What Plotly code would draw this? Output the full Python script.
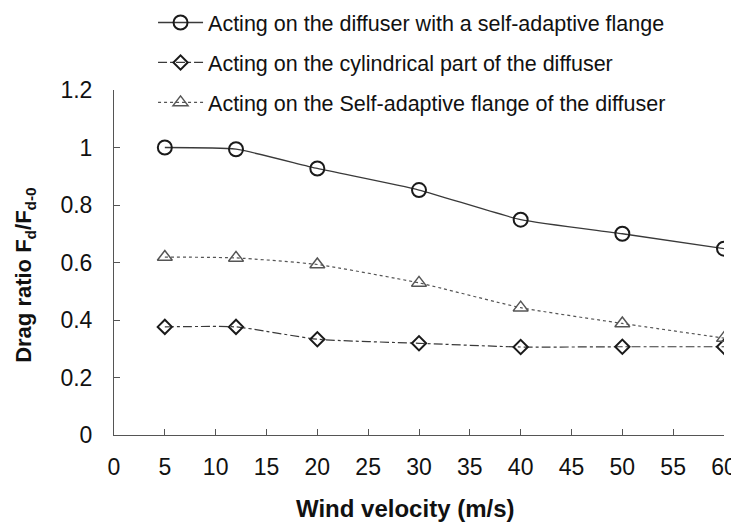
import plotly.graph_objects as go

velocity = [5, 12, 20, 30, 40, 50, 60]
whole_flange = [1.0, 0.994, 0.927, 0.852, 0.749, 0.70, 0.648]
cylindrical = [0.376, 0.376, 0.333, 0.319, 0.306, 0.307, 0.307]
flange_only = [0.619, 0.616, 0.593, 0.529, 0.443, 0.388, 0.337]

names = [
    "Acting on the diffuser with a self-adaptive flange",
    "Acting on the cylindrical part of the diffuser",
    "Acting on the Self-adaptive flange of the diffuser",
]
x_title = "<b>Wind velocity (m/s)</b>"
y_title = "<b>Drag ratio F<sub>d</sub>/F<sub>d-0</sub></b>"
x_ticks = list(range(0, 61, 5))
y_ticks = [0, 0.2, 0.4, 0.6, 0.8, 1.0, 1.2]
y_tick_text = ["0", "0.2", "0.4", "0.6", "0.8", "1", "1.2"]

FONT = "Liberation Sans, Arial, sans-serif"

fig = go.Figure()
fig.add_trace(go.Scatter(
    x=velocity, y=whole_flange, name=names[0], mode="lines+markers", legendgroup="a",
    line=dict(color="#3a3a3a", width=1.3, shape="spline", smoothing=0.5),
    marker=dict(symbol="circle-open", size=14, color="#1a1a1a", line=dict(width=2, color="#1a1a1a")),
))
fig.add_trace(go.Scatter(
    x=velocity, y=cylindrical, name=names[1], mode="lines+markers", legendgroup="b",
    line=dict(color="#3a3a3a", width=1.2, dash="dashdot", shape="spline", smoothing=0.5),
    marker=dict(symbol="diamond-open", size=11, color="#1a1a1a", line=dict(width=2, color="#1a1a1a")),
))
fig.add_trace(go.Scatter(
    x=velocity, y=flange_only, name=names[2], mode="lines+markers", legendgroup="c",
    line=dict(color="#555555", width=1.2, dash="dot", shape="spline", smoothing=0.5),
    marker=dict(symbol="triangle-up-open", size=13, color="#555555", line=dict(width=1.5, color="#555555")),
))

fig.update_layout(
    width=731, height=518,
    margin=dict(l=106, r=15, t=82, b=91, autoexpand=False),
    paper_bgcolor="white", plot_bgcolor="white",
    font=dict(family=FONT, color="#111111"),
    legend=dict(
        x=0.064, xanchor="left", y=1.255, yanchor="top",
        font=dict(size=21.5, family=FONT, color="#111111"),
        bgcolor="rgba(0,0,0,0)", tracegroupgap=9, itemwidth=45,
        traceorder="grouped",
    ),
    showlegend=True,
    annotations=[
        dict(text=x_title, xref="paper", yref="paper", x=0.477, y=-0.212,
             xanchor="center", yanchor="middle", showarrow=False,
             font=dict(size=24, family=FONT, color="#111111")),
        dict(text=y_title, xref="paper", yref="paper", x=-0.146, y=0.464,
             xanchor="center", yanchor="middle", showarrow=False, textangle=-90,
             font=dict(size=22, family=FONT, color="#111111")),
    ],
)
fig.update_xaxes(
    range=[0, 60], tickvals=x_ticks, ticktext=[str(v) for v in x_ticks],
    showgrid=False, zeroline=False, showline=True, linecolor="#555555", linewidth=1,
    ticks="inside", ticklen=6, tickcolor="#555555",
    tickfont=dict(size=23, family=FONT, color="#111111"),
    ticklabelstandoff=11,
)
fig.update_yaxes(
    range=[0, 1.2], tickvals=y_ticks, ticktext=y_tick_text,
    showgrid=False, zeroline=False, showline=True, linecolor="#555555", linewidth=1,
    ticks="inside", ticklen=6, tickcolor="#555555",
    tickfont=dict(size=23, family=FONT, color="#111111"),
    ticklabelstandoff=16,
)

fig.write_html("out.html")
